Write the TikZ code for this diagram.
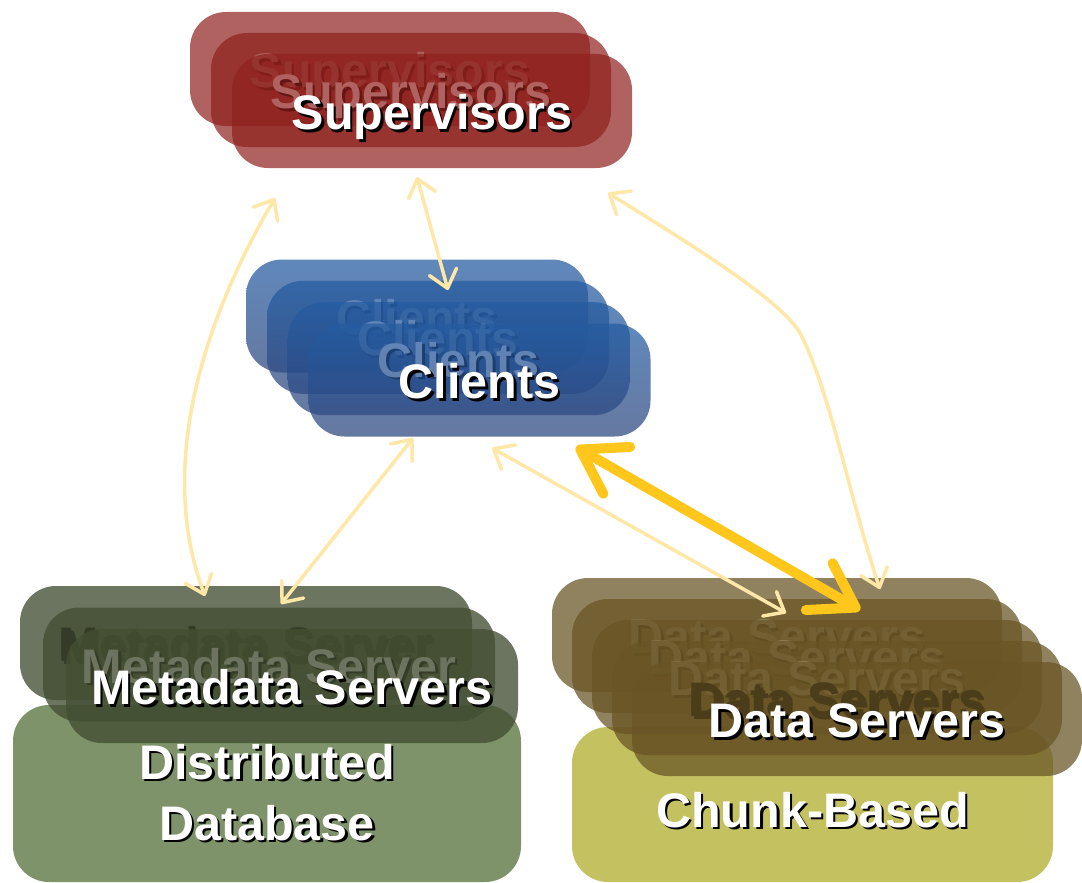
\documentclass[tikz,border=0pt]{standalone}
\usepackage{fontspec}
\setmainfont{Liberation Sans}
\usetikzlibrary{arrows.meta,calc}

\definecolor{supfill}{RGB}{142,32,28}
\definecolor{clitop}{RGB}{36,92,162}
\definecolor{clibot}{RGB}{45,70,125}
\definecolor{mdfill}{RGB}{67,78,50}
\definecolor{dbfill}{RGB}{126,147,106}
\definecolor{datfill}{RGB}{104,84,36}
\definecolor{chunkfill}{RGB}{196,193,96}
\definecolor{paleyellow}{RGB}{255,231,168}
\definecolor{goldyellow}{RGB}{255,199,28}

% bold label with a dark drop shadow behind it
\newcommand{\shtext}[1]{\leavevmode\rlap{\kern2.6pt\raisebox{-2.6pt}{\color{black}#1}}#1}

\begin{document}
\begin{tikzpicture}[x=1pt,y=-1pt,
  label font/.style={font=\fontsize{48.5}{61}\selectfont\bfseries},
  layer/.style={rounded corners=36pt, inner sep=0pt, text=white, text opacity=1,
    label font, text height=37pt, text depth=0pt},
  supbox/.style={layer, fill=supfill, fill opacity=0.7,
    minimum width=400pt, minimum height=114pt},
  clibox/.style={layer, top color=clitop, bottom color=clibot, fill opacity=0.73,
    minimum width=342pt, minimum height=113pt},
  mdbox/.style={layer, fill=mdfill, fill opacity=0.78,
    minimum width=452pt, minimum height=114pt},
  datbox/.style={layer, fill=datfill, fill opacity=0.73,
    minimum width=450pt, minimum height=114pt},
  basebox/.style={rounded corners=36pt, inner sep=0pt, text=white, label font, align=center},
  thinarrow/.style={draw=paleyellow, line width=3.5pt, line cap=round, line join=round,
    arrows={Straight Barb[length=17pt,width=28pt,round]-Straight Barb[length=17pt,width=28pt,round]}},
  thickarrow/.style={draw=goldyellow, line width=10pt, line cap=round, line join=round,
    arrows={Straight Barb[length=42pt,width=54pt,round]-Straight Barb[length=42pt,width=54pt,round]}}
]
\useasboundingbox (0,0) rectangle (1082,883);

% supervisors stack
\node[supbox] (sup1) at (390,69)  {\shtext{Supervisors}};
\node[supbox] (sup2) at (411,90)  {\shtext{Supervisors}};
\node[supbox] (sup3) at (432,111) {\shtext{Supervisors}};

% clients stack
\node[clibox] (cli1) at (417,316)   {\shtext{Clients}};
\node[clibox] (cli2) at (438,337.3) {\shtext{Clients}};
\node[clibox] (cli3) at (458.7,358.7) {\shtext{Clients}};
\node[clibox] (cli4) at (479.5,380) {\shtext{Clients}};

% metadata side: database underneath, server stack on top
\node[basebox, fill=dbfill, minimum width=508pt, minimum height=177pt] (db) at (267,793.5)
  {\shtext{Distributed}\\\shtext{Database}};
\node[mdbox, text=black] (md1) at (246,643)   {\shtext{Metadata Server}};
\node[mdbox] (md2) at (269,664.5) {\shtext{Metadata Server}};
\node[mdbox] (md3) at (292,686)   {\shtext{Metadata Servers}};

% data side: chunk store underneath, server stack on top
\node[basebox, fill=chunkfill, minimum width=481pt, minimum height=155pt,
  text height=37pt, text depth=0pt] (chunk) at (812.5,804.5)
  {\raisebox{-4pt}{\shtext{Chunk-Based}}};
\node[datbox] (dat1) at (777,635) {\shtext{Data Servers}};
\node[datbox] (dat2) at (797,656) {\shtext{Data Servers}};
\node[datbox] (dat3) at (817,677) {\shtext{Data Servers}};
\node[datbox, text=black] (dat4) at (837,698) {\shtext{Data Servers}};
\node[datbox] (dat5) at (857,719) {\shtext{Data Servers}};

% connector ends
\coordinate (supLeft)  at (275,198);
\coordinate (mdTopL)   at (205,596);
\coordinate (supMid)   at (417,177);
\coordinate (cliTop)   at (448,290);
\coordinate (supRight) at (608,193);
\coordinate (datTopR)  at (880,589);
\coordinate (cliBotL)  at (413,438);
\coordinate (mdTopR)   at (281,604);
\coordinate (cliBotM)  at (492,448);
\coordinate (datTopL)  at (786,613);
\coordinate (cliBotR)  at (576,447);
\coordinate (datTopM)  at (860,610);

% connectors
\draw[thinarrow] (supLeft) .. controls (215,300) and (152,455) .. (mdTopL);
\draw[thinarrow] (supMid) -- (cliTop);
\draw[thinarrow] (supRight) .. controls (700,250) and (780,300) .. (800,333)
  .. controls (830,390) and (850,500) .. (datTopR);
\draw[thinarrow] (cliBotL) -- (mdTopR);
\draw[thinarrow] (cliBotM) -- (datTopL);
\draw[thickarrow] (cliBotR) -- (datTopM);
\end{tikzpicture}
\end{document}
